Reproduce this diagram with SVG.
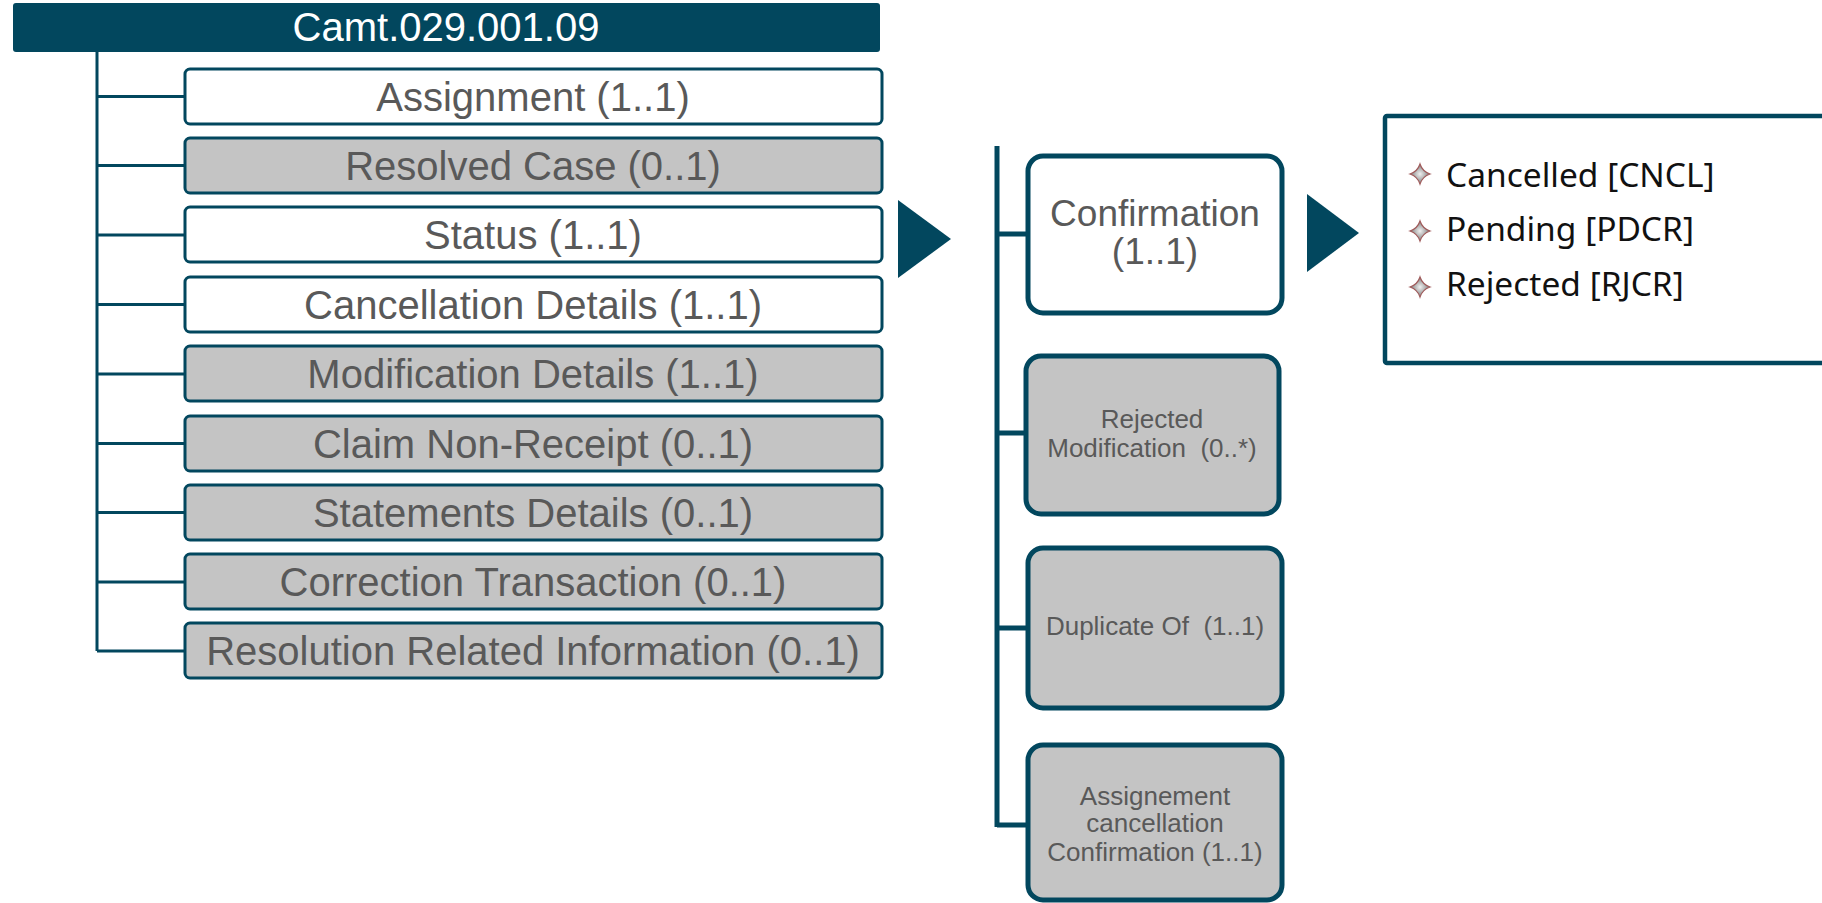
<svg xmlns="http://www.w3.org/2000/svg" width="1822" height="903" viewBox="0 0 1822 903">
<style>
.bx{stroke:#02475E;stroke-width:3}
.w{fill:#FFFFFF}
.g{fill:#C4C4C4}
.t{font-family:"Liberation Sans",Arial,sans-serif;font-size:40px;fill:#595959;text-anchor:middle}
.bx2{stroke:#02475E;stroke-width:5}
.t2{font-family:"Liberation Sans",Arial,sans-serif;font-size:26px;fill:#595959;text-anchor:middle}
.t3{font-family:"Liberation Sans",Arial,sans-serif;font-size:37px;fill:#595959;text-anchor:middle}
.ln{stroke:#02475E;fill:none}
.tri{fill:#02475E}
.it{font-family:"Segoe UI","Noto Sans","Open Sans",sans-serif;font-size:33.5px;fill:#111111}
</style>
<defs>
<radialGradient id="sg" cx="0.5" cy="0.5" r="0.5"><stop offset="0" stop-color="#F0F0F0"/><stop offset="1" stop-color="#7A7A7A"/></radialGradient>
<path id="star" d="M0,-10 Q2.5,-2.5 10,0 Q2.5,2.5 0,10 Q-2.5,2.5 -10,0 Q-2.5,-2.5 0,-10 Z"/>
</defs>
<g id="connectors">
<path class="ln" stroke-width="3" d="M97,52 V651 M97,96.5 H185 M97,165.5 H185 M97,235 H185 M97,304.5 H185 M97,374 H185 M97,443.5 H185 M97,512.5 H185 M97,582 H185 M97,651 H185"/>
<path class="ln" stroke-width="5" d="M997,146 V827 M997,234 H1028 M997,433 H1028 M997,628 H1028 M997,825 H1028"/>
<polygon class="tri" points="898,200 951,239 898,278"/>
<polygon class="tri" points="1307,194 1359,233 1307,272"/>
</g>
<g id="header">
<rect x="13" y="3" width="867" height="49" rx="3" fill="#02475E"/>
<text x="446" y="41" class="t" style="fill:#FFFFFF">Camt.029.001.09</text>
</g>
<g id="n-assignment"><rect class="bx w" x="185" y="69" width="697" height="55" rx="5"/><text class="t" x="533" y="111">Assignment (1..1)</text></g>
<g id="n-resolved"><rect class="bx g" x="185" y="138" width="697" height="55" rx="5"/><text class="t" x="533" y="180">Resolved Case (0..1)</text></g>
<g id="n-status"><rect class="bx w" x="185" y="207" width="697" height="55" rx="5"/><text class="t" x="533" y="249">Status (1..1)</text></g>
<g id="n-cancellation"><rect class="bx w" x="185" y="277" width="697" height="55" rx="5"/><text class="t" x="533" y="319">Cancellation Details (1..1)</text></g>
<g id="n-modification"><rect class="bx g" x="185" y="346" width="697" height="55" rx="5"/><text class="t" x="533" y="388">Modification Details (1..1)</text></g>
<g id="n-claim"><rect class="bx g" x="185" y="416" width="697" height="55" rx="5"/><text class="t" x="533" y="458">Claim Non-Receipt (0..1)</text></g>
<g id="n-statements"><rect class="bx g" x="185" y="485" width="697" height="55" rx="5"/><text class="t" x="533" y="527">Statements Details (0..1)</text></g>
<g id="n-correction"><rect class="bx g" x="185" y="554" width="697" height="55" rx="5"/><text class="t" x="533" y="596">Correction Transaction (0..1)</text></g>
<g id="n-resolution"><rect class="bx g" x="185" y="623" width="697" height="55" rx="5"/><text class="t" x="533" y="665">Resolution Related Information (0..1)</text></g>
<g id="n-confirmation"><rect class="bx2 w" x="1028" y="156" width="254" height="157" rx="15"/><text class="t3" x="1155" y="226">Confirmation</text><text class="t3" x="1155" y="264">(1..1)</text></g>
<g id="n-rejected"><rect class="bx2 g" x="1026" y="356" width="253" height="158" rx="15"/><text class="t2" x="1152" y="428">Rejected</text><text class="t2" x="1152" y="457" xml:space="preserve">Modification  (0..*)</text></g>
<g id="n-duplicate"><rect class="bx2 g" x="1028" y="548" width="254" height="160" rx="15"/><text class="t2" x="1155" y="635" xml:space="preserve">Duplicate Of  (1..1)</text></g>
<g id="n-assignement"><rect class="bx2 g" x="1028" y="745" width="254" height="155" rx="15"/><text class="t2" x="1155" y="805">Assignement</text><text class="t2" x="1155" y="832">cancellation</text><text class="t2" x="1155" y="861">Confirmation (1..1)</text></g>
<g id="n-codes">
<rect x="1385" y="116" width="445" height="247" rx="2" fill="#FFFFFF" stroke="#02475E" stroke-width="4.5"/>
<use href="#star" x="1420" y="174" fill="url(#sg)" stroke="#A05A5A" stroke-width="1.2"/>
<use href="#star" x="1420" y="231" fill="url(#sg)" stroke="#A05A5A" stroke-width="1.2"/>
<use href="#star" x="1420" y="287" fill="url(#sg)" stroke="#A05A5A" stroke-width="1.2"/>
<text class="it" x="1446" y="187">Cancelled [CNCL]</text>
<text class="it" x="1446" y="241">Pending [PDCR]</text>
<text class="it" x="1446" y="296">Rejected [RJCR]</text>
</g>
</svg>
